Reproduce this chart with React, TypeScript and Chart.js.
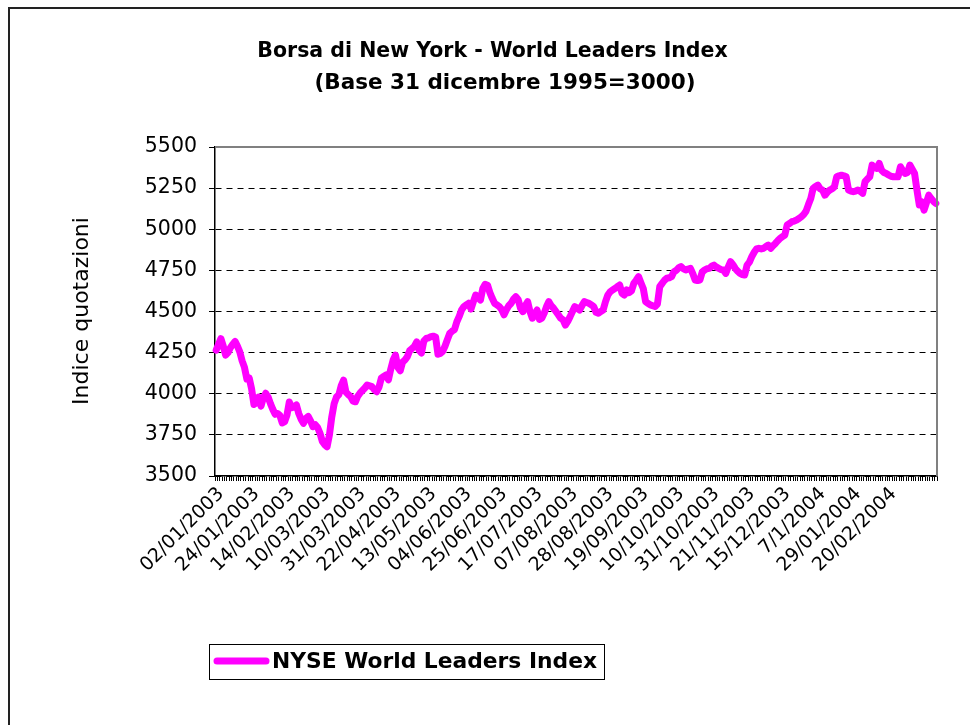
import React, { useEffect, useRef } from 'react';
import { Chart, registerables } from 'chart.js';

Chart.register(...registerables);

const titleLines = ['Borsa di New York - World Leaders Index', '(Base 31 dicembre 1995=3000)'];
const yAxisTitle = 'Indice quotazioni';
const seriesName = 'NYSE World Leaders Index';

// every 15th trading day carries a label
const tickLabels = [
  '02/01/2003', '24/01/2003', '14/02/2003', '10/03/2003', '31/03/2003',
  '22/04/2003', '13/05/2003', '04/06/2003', '25/06/2003', '17/07/2003',
  '07/08/2003', '28/08/2003', '19/09/2003', '10/10/2003', '31/10/2003',
  '21/11/2003', '15/12/2003', '7/1/2004', '29/01/2004', '20/02/2004',
];
const labelEvery = 15;

const yMin = 3500;
const yMax = 5500;
const yStep = 250;

// daily index values, 02/01/2003 .. 19/03/2004
const values = [
  4265, 4300, 4335, 4290, 4235, 4250, 4280, 4300, 4318, 4290,
  4255, 4200, 4160, 4090, 4095, 4030, 3935, 3945, 3980, 3925,
  3975, 4003, 3980, 3940, 3905, 3875, 3880, 3868, 3822, 3830,
  3870, 3950, 3915, 3920, 3932, 3880, 3845, 3820, 3850, 3862,
  3835, 3800, 3812, 3795, 3760, 3710, 3690, 3678, 3750, 3860,
  3940, 3980, 3995, 4050, 4083, 4010, 3995, 3982, 3955, 3951,
  3985, 4005, 4020, 4035, 4053, 4048, 4043, 4025, 4012, 4040,
  4095, 4105, 4114, 4085, 4150, 4205, 4235, 4160, 4140, 4192,
  4205, 4225, 4262, 4275, 4288, 4315, 4265, 4248, 4320, 4336,
  4340, 4347, 4350, 4345, 4240, 4245, 4258, 4290, 4330, 4367,
  4380, 4390, 4438, 4470, 4509, 4530, 4540, 4550, 4515, 4560,
  4600, 4585, 4570, 4640, 4665, 4660, 4615, 4580, 4550, 4540,
  4530, 4512, 4480, 4510, 4535, 4550, 4575, 4590, 4572, 4520,
  4499, 4535, 4560, 4500, 4459, 4485, 4509, 4452, 4460, 4489,
  4530, 4560, 4535, 4520, 4500, 4480, 4459, 4449, 4418, 4440,
  4469, 4500, 4530, 4520, 4509, 4535, 4560, 4555, 4550, 4540,
  4530, 4495, 4489, 4500, 4509, 4560, 4600, 4620, 4631, 4640,
  4651, 4661, 4610, 4600, 4631, 4615, 4625, 4671, 4690, 4712,
  4675, 4640, 4560, 4550, 4540, 4535, 4530, 4545, 4651, 4671,
  4690, 4702, 4705, 4712, 4742, 4750, 4765, 4773, 4760, 4752,
  4758, 4762, 4730, 4691, 4688, 4691, 4740, 4752, 4760, 4762,
  4775, 4782, 4770, 4762, 4755, 4752, 4732, 4770, 4803, 4785,
  4762, 4745, 4732, 4725, 4722, 4782, 4800, 4833, 4860, 4880,
  4884, 4880, 4884, 4895, 4904, 4884, 4900, 4914, 4930, 4945,
  4955, 4965, 5026, 5035, 5046, 5050, 5056, 5065, 5076, 5090,
  5110, 5150, 5187, 5248, 5260, 5268, 5245, 5238, 5207, 5225,
  5238, 5245, 5258, 5319, 5325, 5329, 5325, 5319, 5238, 5232,
  5228, 5232, 5238, 5230, 5218, 5289, 5305, 5319, 5390, 5375,
  5370, 5400, 5359, 5345, 5339, 5330, 5322, 5319, 5320, 5319,
  5380, 5355, 5339, 5345, 5390, 5365, 5339, 5238, 5147, 5167,
  5116, 5160, 5207, 5187, 5170, 5157,
];

const FONT = '"DejaVu Sans", Verdana, sans-serif';
const LINE_COLOR = '#FF00FF';

export default function App() {
  const ref = useRef<HTMLCanvasElement | null>(null);

  useEffect(() => {
    document.body.style.margin = '0';
    const canvas = ref.current;
    if (!canvas) return;

    const labels = values.map((_, i) =>
      i % labelEvery === 0 && tickLabels[i / labelEvery] ? tickLabels[i / labelEvery] : ''
    );

    const decor = {
      id: 'decor',
      beforeDraw(chart: any) {
        const ctx = chart.ctx as CanvasRenderingContext2D;
        ctx.save();
        ctx.fillStyle = '#ffffff';
        ctx.fillRect(0, 0, chart.width, chart.height);
        ctx.strokeStyle = '#222222';
        ctx.lineWidth = 2;
        ctx.beginPath();
        ctx.moveTo(9, chart.height);
        ctx.lineTo(9, 8);
        ctx.lineTo(chart.width, 8);
        ctx.stroke();
        ctx.restore();
      },
      afterDraw(chart: any) {
        const ctx = chart.ctx as CanvasRenderingContext2D;
        const a = chart.chartArea;
        ctx.save();
        // plot frame (top / right)
        ctx.strokeStyle = '#808080';
        ctx.lineWidth = 2;
        ctx.beginPath();
        ctx.moveTo(a.left, a.top);
        ctx.lineTo(a.right, a.top);
        ctx.lineTo(a.right, a.bottom);
        ctx.stroke();

        // titles
        ctx.fillStyle = '#000';
        ctx.textAlign = 'center';
        ctx.textBaseline = 'middle';
        ctx.font = `bold 20.5px ${FONT}`;
        ctx.fillText(titleLines[0], 492.5, 52);
        ctx.font = `bold 21.5px ${FONT}`;
        ctx.fillText(titleLines[1], 505, 83);

        // y axis title
        ctx.save();
        ctx.translate(82, 311);
        ctx.rotate(-Math.PI / 2);
        ctx.font = `22px ${FONT}`;
        ctx.fillText(yAxisTitle, 0, 0);
        ctx.restore();

        // legend
        ctx.strokeStyle = '#000';
        ctx.lineWidth = 1;
        ctx.strokeRect(209.5, 644.5, 395, 35);
        ctx.strokeStyle = LINE_COLOR;
        ctx.lineWidth = 7;
        ctx.lineCap = 'round';
        ctx.beginPath();
        ctx.moveTo(217, 661);
        ctx.lineTo(266, 661);
        ctx.stroke();
        ctx.fillStyle = '#000';
        ctx.textAlign = 'left';
        ctx.font = `bold 21.8px ${FONT}`;
        ctx.fillText(seriesName, 272, 662);
        ctx.restore();
      },
    };

    const chart = new Chart(canvas, {
      type: 'line',
      data: {
        labels,
        datasets: [
          {
            label: seriesName,
            data: values,
            borderColor: LINE_COLOR,
            backgroundColor: LINE_COLOR,
            borderWidth: 7,
            pointRadius: 0,
            tension: 0,
            borderCapStyle: 'round',
            borderJoinStyle: 'round',
          },
        ],
      },
      options: {
        animation: false,
        responsive: true,
        maintainAspectRatio: false,
        layout: { padding: { left: 0, right: 33, top: 147, bottom: 99 } },
        plugins: {
          legend: { display: false },
          title: { display: false },
          tooltip: { enabled: false },
        },
        scales: {
          x: {
            type: 'category',
            offset: true,
            grid: {
              display: true,
              drawOnChartArea: false,
              drawTicks: true,
              tickLength: 5,
              color: '#000',
              lineWidth: 1,
              offset: true,
            },
            border: { display: true, color: '#000', width: 1.5 },
            ticks: {
              autoSkip: false,
              minRotation: 45,
              maxRotation: 45,
              color: '#000',
              padding: 2,
              labelOffset: 5,
              font: { family: FONT, size: 19 },
            },
            afterFit(scale: any) {
              scale.height = 150;
            },
          },
          y: {
            min: yMin,
            max: yMax,
            ticks: {
              stepSize: yStep,
              color: '#000',
              padding: 12,
              font: { family: FONT, size: 20.5 },
              callback: (v: any) => String(v),
            },
            grid: {
              color: '#000',
              lineWidth: 1,
              tickLength: 6,
              drawTicks: true,
              tickColor: '#000',
              tickBorderDash: [],
            },
            border: { display: true, color: '#000', width: 1.5, dash: [6, 5] },
            afterFit(scale: any) {
              scale.width = 215;
            },
          },
        },
      },
      plugins: [decor],
    });

    return () => chart.destroy();
  }, []);

  return (
    <div style={{ position: 'absolute', left: 0, top: 0, width: 970, height: 725 }}>
      <canvas ref={ref} />
    </div>
  );
}
